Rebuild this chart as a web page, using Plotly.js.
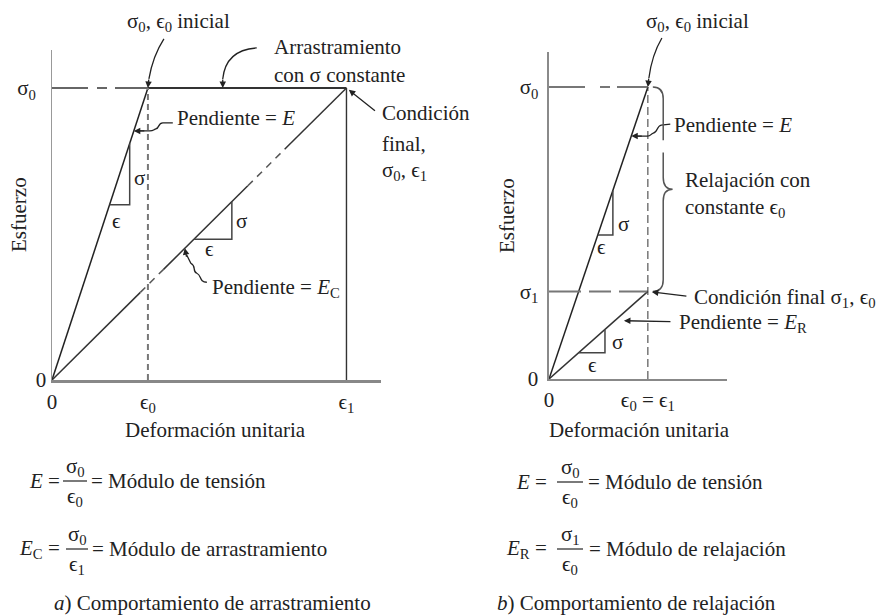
<!DOCTYPE html>
<html>
<head>
<meta charset="utf-8">
<script src="https://cdn.plot.ly/plotly-3.0.1.min.js"></script>
<style>
  html, body { margin: 0; padding: 0; background: #fff; }
  #chart { width: 887px; height: 616px; }
</style>
</head>
<body>
<div id="chart"></div>
<script>
// (a) creep test: strain 0, ε0, ε1 and stress 0, σ0
const creepStrain = [0, 1.0, 3.07];
const creepStress = [0, 1.0];
const creepStrainTicks = ['0', 'ϵ<sub>0</sub>', 'ϵ<sub>1</sub>'];
const creepStressTicks = ['0', 'σ<sub>0</sub>\u00a0\u00a0'];

// (b) relaxation test: strain 0, ε0 (= ε1) and stress 0, σ1, σ0
const relaxStrain = [0, 1.0];
const relaxStress = [0, 0.30, 1.0];
const relaxStrainTicks = ['0', 'ϵ<sub>0</sub> = ϵ<sub>1</sub>'];
const relaxStressTicks = ['0', 'σ<sub>1</sub>', 'σ<sub>0</sub>'];

const W = 887, H = 616;
const SERIF = '"Liberation Serif", "Times New Roman", "DejaVu Serif", serif';
const INK = '#222';
const FS = 21;
const px = v => v / W;
const py = v => 1 - v / H;

const [, e0a, e1a] = creepStrain;
const [, s0a] = creepStress;
const [, e0b] = relaxStrain;
const [, s1b, s0b] = relaxStress;

const traces = [];
function seg(xs, ys, axis, line) {
  traces.push({
    type: 'scatter', mode: 'lines', x: xs, y: ys,
    xaxis: axis[0], yaxis: axis[1],
    line: Object.assign({ color: INK, width: 1.5 }, line),
    hoverinfo: 'skip', showlegend: false
  });
}
// small slope triangle sitting under a line through the origin
function slopeTriangle(axis, slope, xa, xb) {
  seg([xa, xb, xb], [slope * xa, slope * xa, slope * xb], axis, { color: '#444', width: 1.5 });
}

const A = ['x', 'y'], B = ['x2', 'y2'];

// ---- panel (a): creep ----
const creepSlope = s0a / e1a;
seg([0, e0a], [0, s0a], A, { width: 1.5 });
seg([e0a, e1a], [s0a, s0a], A, { color: '#333', width: 2 });
seg([0, e0a], [s0a, s0a], A, { color: '#666', width: 2, dash: '36px,9px,10px,8px' });
seg([e1a, e1a], [0, s0a], A, { color: '#333', width: 1.4 });
seg([e0a, e0a], [0, s0a], A, { color: '#777', width: 2, dash: '6px,4px' });
// secant (creep modulus) line: solid pieces joined by dashed stretches
const secBreaks = [0, 0.30, 0.378, 0.665, 0.79, 1];
const solidX = [], solidY = [], dashX = [], dashY = [];
for (let i = 0; i < secBreaks.length - 1; i++) {
  const xa = secBreaks[i] * e1a, xb = secBreaks[i + 1] * e1a;
  const tx = i % 2 === 0 ? solidX : dashX, ty = i % 2 === 0 ? solidY : dashY;
  tx.push(xa, xb, null); ty.push(creepSlope * xa, creepSlope * xb, null);
}
seg(solidX, solidY, A, { color: '#333', width: 1.5 });
seg(dashX, dashY, A, { color: '#555', width: 1.5, dash: '7px,6px' });
slopeTriangle(A, s0a / e0a, 0.60, 0.81);
slopeTriangle(A, creepSlope, 1.48, 1.875);

// ---- panel (b): relaxation ----
const relaxSlope = s1b / e0b;
seg([0, e0b], [0, s0b], B, { width: 1.5 });
seg([0, e0b], [0, s1b], B, { color: '#333', width: 1.5 });
seg([0, e0b], [s0b, s0b], B, { color: '#777', width: 2, dash: '36px,15px,10px,7px' });
seg([0, e0b], [s1b, s1b], B, { color: '#777', width: 2, dash: '32px,8px,22px,8px' });
seg([e0b, e0b], [0, s0b], B, { color: '#333', width: 1, dash: '8px,4px' });
slopeTriangle(B, s0b / e0b, 0.493, 0.646);
slopeTriangle(B, relaxSlope, 0.30, 0.566);

// ---- axes ----
function axis(domain, range, vals, text, lineColor, lineWidth, anchor, standoff) {
  return {
    domain, range, anchor,
    tickmode: 'array', tickvals: vals, ticktext: text,
    ticks: '', showgrid: false, zeroline: false,
    showline: true, linecolor: lineColor, linewidth: lineWidth,
    ticklabelstandoff: standoff,
    tickfont: { family: SERIF, size: FS, color: INK },
    fixedrange: true
  };
}

const layout = {
  width: W, height: H,
  margin: { l: 0, r: 0, t: 0, b: 0 },
  paper_bgcolor: '#fff', plot_bgcolor: 'rgba(0,0,0,0)',
  showlegend: false, hovermode: false,
  xaxis: axis([px(52), px(381)], [0, 3.43], creepStrain, creepStrainTicks, '#888', 2.5, 'y', 1),
  yaxis: axis([py(380), py(50)], [0, 1.13], creepStress, creepStressTicks, '#999', 1.5, 'x', 0),
  xaxis2: axis([px(549), px(727)], [0, 1.8], relaxStrain, relaxStrainTicks, '#888', 1.5, 'y2', 1),
  yaxis2: axis([py(379), py(52)], [0, 1.12], relaxStress, relaxStressTicks, '#8a8a8a', 2.5, 'x2', 4),
  annotations: [],
  shapes: []
};

// position of a data value on the page, from an axis' domain and range
function toPaper(axName, v) {
  const a = layout[axName];
  return a.domain[0] + (v - a.range[0]) / (a.range[1] - a.range[0]) * (a.domain[1] - a.domain[0]);
}

function txt(x, y, text, o = {}) {
  layout.annotations.push({
    xref: 'paper', yref: 'paper', x: px(x), y: py(y), text,
    showarrow: false, xanchor: o.anchor || 'left', yanchor: 'middle',
    textangle: o.angle || 0,
    font: { family: SERIF, size: o.size || FS, color: INK }
  });
}
function arrow(axisPair, x, y, ax, ay, standoff = 2) {
  layout.annotations.push({
    xref: axisPair[0], yref: axisPair[1], x, y, ax, ay,
    axref: 'pixel', ayref: 'pixel', text: '', showarrow: true,
    arrowhead: 2, arrowsize: 1, arrowwidth: 1.3, arrowcolor: INK, standoff
  });
}
// curved or wavy leader ending in an arrowhead at a data point;
// stem is given in pixels relative to the point (y up)
function leader(axNames, axisPair, x, y, stem, headAx, headAy) {
  layout.shapes.push({
    type: 'path', xref: 'paper', yref: 'paper',
    xsizemode: 'pixel', ysizemode: 'pixel',
    xanchor: toPaper(axNames[0], x), yanchor: toPaper(axNames[1], y),
    path: stem, line: { color: INK, width: 1.3 }
  });
  arrow(axisPair, x, y, headAx, headAy, 0);
}
function fraction(cx, barY, halfW, num, den) {
  txt(cx, barY - 14, num, { anchor: 'center' });
  txt(cx, barY + 16, den, { anchor: 'center' });
  layout.shapes.push({
    type: 'line', xref: 'paper', yref: 'paper',
    x0: px(cx - halfW), x1: px(cx + halfW), y0: py(barY), y1: py(barY),
    line: { color: INK, width: 1.2 }
  });
}

const AX = ['xaxis', 'yaxis'], BX = ['xaxis2', 'yaxis2'];

// labels, panel (a)
txt(125, 22, 'σ<sub>0</sub>, ϵ<sub>0</sub> inicial');
txt(272, 47, 'Arrastramiento');
txt(272, 75, 'con σ constante');
txt(380, 113, 'Condición');
txt(380, 144, 'final,');
txt(380, 171, 'σ<sub>0</sub>, ϵ<sub>1</sub>');
txt(175, 118, 'Pendiente = <i>E</i>');
txt(210, 288, 'Pendiente = <i>E</i><sub>C</sub>');
txt(139, 178, 'σ', { anchor: 'center' });
txt(117, 221, 'ϵ', { anchor: 'center' });
txt(241, 221, 'σ', { anchor: 'center' });
txt(209, 249, 'ϵ', { anchor: 'center' });
txt(19, 215, 'Esfuerzo', { anchor: 'center', angle: -90 });
txt(215, 430, 'Deformación unitaria', { anchor: 'center' });

// σ0, ε0 inicial
leader(AX, A, e0a, s0a, 'M 16,49 Q 5,32 1,9', 1, -10);
// creep at constant σ
leader(AX, A, 1.78, s0a, 'M 34,40 Q 3,38 0,9', 0, -10);
// final condition
arrow(A, e1a, s0a, 30, 24, 3);
// slope E
leader(AX, A, 0.853, 0.853 * s0a / e0a, 'M 39,8 L 29,8 C 24,8 26,3 22,2 C 19,1 20,0 16,0 L 4,0', 12, 0);
// slope E_C
leader(AX, A, 1.385, 1.385 * creepSlope, 'M 22,-34 C 14,-34 17,-27 12,-25 C 7,-23 12,-18 6,-15 L 2,-7', 2, 10);

// labels, panel (b)
txt(644, 22, 'σ<sub>0</sub>, ϵ<sub>0</sub> inicial');
txt(672, 125, 'Pendiente = <i>E</i>');
txt(683, 180, 'Relajación con');
txt(683, 208, 'constante ϵ<sub>0</sub>');
txt(692, 298, 'Condición final σ<sub>1</sub>, ϵ<sub>0</sub>');
txt(677, 323, 'Pendiente = <i>E</i><sub>R</sub>');
txt(623, 224, 'σ', { anchor: 'center' });
txt(601, 247, 'ϵ', { anchor: 'center' });
txt(617, 342, 'σ', { anchor: 'center' });
txt(592, 365, 'ϵ', { anchor: 'center' });
txt(507, 215, 'Esfuerzo', { anchor: 'center', angle: -90 });
txt(639, 430, 'Deformación unitaria', { anchor: 'center' });

leader(BX, B, e0b, s0b, 'M 14,49 Q 4,32 1,9', 1, -10);
leader(BX, B, 0.832, 0.832 * s0b / e0b, 'M 39,12 L 30,11 C 25,10 27,4 22,3 C 19,2 20,0 16,0 L 4,0', 12, 0);
arrow(B, e0b, s1b, 40, 5, 4);
arrow(B, 0.667, 0.667 * relaxSlope, 57, 1, 9);

// brace spanning the stress drop σ0 → σ1 at constant ε0
(function brace() {
  const xs = e0b + 0.05, xv = e0b + 0.155, xt = e0b + 0.25;
  const span = s0b - s1b, r = 0.04, mid = (s0b + s1b) / 2;
  const gTop = s0b - 0.26 * span, gBot = s0b - 0.32 * span;
  const path = `M ${xs},${s0b} Q ${xv},${s0b} ${xv},${s0b - r} L ${xv},${gTop} ` +
    `M ${xv},${gBot} L ${xv},${mid + r} Q ${xv},${mid} ${xt},${mid} ` +
    `Q ${xv},${mid} ${xv},${mid - r} L ${xv},${s1b + r} Q ${xv},${s1b} ${xs},${s1b}`;
  layout.shapes.push({ type: 'path', xref: 'x2', yref: 'y2', path, line: { color: '#555', width: 1.5 } });
})();

// formulas and captions
txt(27, 481, '<i>E</i> =');
fraction(75, 481, 12, 'σ<sub>0</sub>', 'ϵ<sub>0</sub>');
txt(89, 481, '= Módulo de tensión');
txt(17, 549, '<i>E</i><sub>C</sub> =');
fraction(77, 549, 11, 'σ<sub>0</sub>', 'ϵ<sub>1</sub>');
txt(90, 549, '= Módulo de arrastramiento');
txt(52, 603, '<i>a</i>) Comportamiento de arrastramiento');

txt(514, 482, '<i>E</i> =');
fraction(570, 482, 13, 'σ<sub>0</sub>', 'ϵ<sub>0</sub>');
txt(586, 482, '= Módulo de tensión');
txt(504, 549, '<i>E</i><sub>R</sub> =');
fraction(570, 549, 13, 'σ<sub>1</sub>', 'ϵ<sub>0</sub>');
txt(587, 549, '= Módulo de relajación');
txt(495, 603, '<i>b</i>) Comportamiento de relajación');

Plotly.newPlot('chart', traces, layout, { staticPlot: true, displayModeBar: false });
</script>
</body>
</html>
